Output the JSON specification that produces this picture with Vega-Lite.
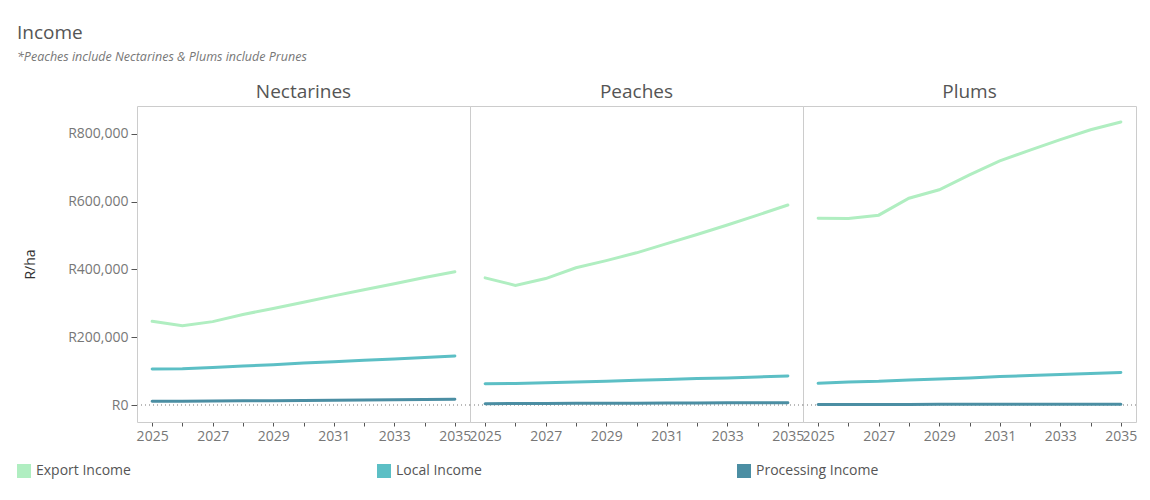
{
  "$schema": "https://vega.github.io/schema/vega-lite/v6.json",
  "padding": {"left": 17, "top": 23, "right": 10, "bottom": 5},
  "background": "white",
  "bounds": "flush",
  "title": {
    "text": "Income",
    "subtitle": "*Peaches include Nectarines & Plums include Prunes",
    "anchor": "start",
    "frame": "bounds",
    "dx": 0,
    "font": "Open Sans",
    "fontSize": 19,
    "fontWeight": "normal",
    "color": "#555555",
    "subtitleFont": "Open Sans",
    "subtitleFontSize": 12.5,
    "subtitleFontStyle": "italic",
    "subtitleColor": "#777777",
    "subtitlePadding": 8,
    "offset": 20
  },
  "data": {
    "values": [
      {"fruit": "Nectarines", "type": "Export Income", "year": 2025, "value": 247000},
      {"fruit": "Nectarines", "type": "Export Income", "year": 2026, "value": 234000},
      {"fruit": "Nectarines", "type": "Export Income", "year": 2027, "value": 246000},
      {"fruit": "Nectarines", "type": "Export Income", "year": 2028, "value": 267000},
      {"fruit": "Nectarines", "type": "Export Income", "year": 2029, "value": 285000},
      {"fruit": "Nectarines", "type": "Export Income", "year": 2030, "value": 303000},
      {"fruit": "Nectarines", "type": "Export Income", "year": 2031, "value": 322000},
      {"fruit": "Nectarines", "type": "Export Income", "year": 2032, "value": 340000},
      {"fruit": "Nectarines", "type": "Export Income", "year": 2033, "value": 358000},
      {"fruit": "Nectarines", "type": "Export Income", "year": 2034, "value": 376000},
      {"fruit": "Nectarines", "type": "Export Income", "year": 2035, "value": 393000},
      {"fruit": "Nectarines", "type": "Local Income", "year": 2025, "value": 106000},
      {"fruit": "Nectarines", "type": "Local Income", "year": 2026, "value": 107000},
      {"fruit": "Nectarines", "type": "Local Income", "year": 2027, "value": 111000},
      {"fruit": "Nectarines", "type": "Local Income", "year": 2028, "value": 115000},
      {"fruit": "Nectarines", "type": "Local Income", "year": 2029, "value": 119000},
      {"fruit": "Nectarines", "type": "Local Income", "year": 2030, "value": 124000},
      {"fruit": "Nectarines", "type": "Local Income", "year": 2031, "value": 128000},
      {"fruit": "Nectarines", "type": "Local Income", "year": 2032, "value": 132000},
      {"fruit": "Nectarines", "type": "Local Income", "year": 2033, "value": 136000},
      {"fruit": "Nectarines", "type": "Local Income", "year": 2034, "value": 140000},
      {"fruit": "Nectarines", "type": "Local Income", "year": 2035, "value": 145000},
      {"fruit": "Nectarines", "type": "Processing Income", "year": 2025, "value": 11000},
      {"fruit": "Nectarines", "type": "Processing Income", "year": 2026, "value": 11500},
      {"fruit": "Nectarines", "type": "Processing Income", "year": 2027, "value": 12000},
      {"fruit": "Nectarines", "type": "Processing Income", "year": 2028, "value": 12500},
      {"fruit": "Nectarines", "type": "Processing Income", "year": 2029, "value": 13000},
      {"fruit": "Nectarines", "type": "Processing Income", "year": 2030, "value": 13500},
      {"fruit": "Nectarines", "type": "Processing Income", "year": 2031, "value": 14000},
      {"fruit": "Nectarines", "type": "Processing Income", "year": 2032, "value": 15000},
      {"fruit": "Nectarines", "type": "Processing Income", "year": 2033, "value": 15500},
      {"fruit": "Nectarines", "type": "Processing Income", "year": 2034, "value": 16000},
      {"fruit": "Nectarines", "type": "Processing Income", "year": 2035, "value": 17000},
      {"fruit": "Peaches", "type": "Export Income", "year": 2025, "value": 375000},
      {"fruit": "Peaches", "type": "Export Income", "year": 2026, "value": 353000},
      {"fruit": "Peaches", "type": "Export Income", "year": 2027, "value": 373000},
      {"fruit": "Peaches", "type": "Export Income", "year": 2028, "value": 405000},
      {"fruit": "Peaches", "type": "Export Income", "year": 2029, "value": 426000},
      {"fruit": "Peaches", "type": "Export Income", "year": 2030, "value": 449000},
      {"fruit": "Peaches", "type": "Export Income", "year": 2031, "value": 476000},
      {"fruit": "Peaches", "type": "Export Income", "year": 2032, "value": 503000},
      {"fruit": "Peaches", "type": "Export Income", "year": 2033, "value": 531000},
      {"fruit": "Peaches", "type": "Export Income", "year": 2034, "value": 560000},
      {"fruit": "Peaches", "type": "Export Income", "year": 2035, "value": 590000},
      {"fruit": "Peaches", "type": "Local Income", "year": 2025, "value": 63000},
      {"fruit": "Peaches", "type": "Local Income", "year": 2026, "value": 63500},
      {"fruit": "Peaches", "type": "Local Income", "year": 2027, "value": 66000},
      {"fruit": "Peaches", "type": "Local Income", "year": 2028, "value": 68000},
      {"fruit": "Peaches", "type": "Local Income", "year": 2029, "value": 70000},
      {"fruit": "Peaches", "type": "Local Income", "year": 2030, "value": 73000},
      {"fruit": "Peaches", "type": "Local Income", "year": 2031, "value": 75000},
      {"fruit": "Peaches", "type": "Local Income", "year": 2032, "value": 78000},
      {"fruit": "Peaches", "type": "Local Income", "year": 2033, "value": 80000},
      {"fruit": "Peaches", "type": "Local Income", "year": 2034, "value": 83000},
      {"fruit": "Peaches", "type": "Local Income", "year": 2035, "value": 86000},
      {"fruit": "Peaches", "type": "Processing Income", "year": 2025, "value": 4000},
      {"fruit": "Peaches", "type": "Processing Income", "year": 2026, "value": 4300},
      {"fruit": "Peaches", "type": "Processing Income", "year": 2027, "value": 4600},
      {"fruit": "Peaches", "type": "Processing Income", "year": 2028, "value": 5000},
      {"fruit": "Peaches", "type": "Processing Income", "year": 2029, "value": 5300},
      {"fruit": "Peaches", "type": "Processing Income", "year": 2030, "value": 5600},
      {"fruit": "Peaches", "type": "Processing Income", "year": 2031, "value": 5900},
      {"fruit": "Peaches", "type": "Processing Income", "year": 2032, "value": 6200},
      {"fruit": "Peaches", "type": "Processing Income", "year": 2033, "value": 6500},
      {"fruit": "Peaches", "type": "Processing Income", "year": 2034, "value": 6800},
      {"fruit": "Peaches", "type": "Processing Income", "year": 2035, "value": 7000},
      {"fruit": "Plums", "type": "Export Income", "year": 2025, "value": 551000},
      {"fruit": "Plums", "type": "Export Income", "year": 2026, "value": 550000},
      {"fruit": "Plums", "type": "Export Income", "year": 2027, "value": 560000},
      {"fruit": "Plums", "type": "Export Income", "year": 2028, "value": 610000},
      {"fruit": "Plums", "type": "Export Income", "year": 2029, "value": 635000},
      {"fruit": "Plums", "type": "Export Income", "year": 2030, "value": 679000},
      {"fruit": "Plums", "type": "Export Income", "year": 2031, "value": 720000},
      {"fruit": "Plums", "type": "Export Income", "year": 2032, "value": 752000},
      {"fruit": "Plums", "type": "Export Income", "year": 2033, "value": 783000},
      {"fruit": "Plums", "type": "Export Income", "year": 2034, "value": 812000},
      {"fruit": "Plums", "type": "Export Income", "year": 2035, "value": 835000},
      {"fruit": "Plums", "type": "Local Income", "year": 2025, "value": 64000},
      {"fruit": "Plums", "type": "Local Income", "year": 2026, "value": 68000},
      {"fruit": "Plums", "type": "Local Income", "year": 2027, "value": 70000},
      {"fruit": "Plums", "type": "Local Income", "year": 2028, "value": 74000},
      {"fruit": "Plums", "type": "Local Income", "year": 2029, "value": 77000},
      {"fruit": "Plums", "type": "Local Income", "year": 2030, "value": 80000},
      {"fruit": "Plums", "type": "Local Income", "year": 2031, "value": 84000},
      {"fruit": "Plums", "type": "Local Income", "year": 2032, "value": 87000},
      {"fruit": "Plums", "type": "Local Income", "year": 2033, "value": 90000},
      {"fruit": "Plums", "type": "Local Income", "year": 2034, "value": 93000},
      {"fruit": "Plums", "type": "Local Income", "year": 2035, "value": 96000},
      {"fruit": "Plums", "type": "Processing Income", "year": 2025, "value": 1800},
      {"fruit": "Plums", "type": "Processing Income", "year": 2026, "value": 1850},
      {"fruit": "Plums", "type": "Processing Income", "year": 2027, "value": 1900},
      {"fruit": "Plums", "type": "Processing Income", "year": 2028, "value": 1950},
      {"fruit": "Plums", "type": "Processing Income", "year": 2029, "value": 2000},
      {"fruit": "Plums", "type": "Processing Income", "year": 2030, "value": 2050},
      {"fruit": "Plums", "type": "Processing Income", "year": 2031, "value": 2100},
      {"fruit": "Plums", "type": "Processing Income", "year": 2032, "value": 2150},
      {"fruit": "Plums", "type": "Processing Income", "year": 2033, "value": 2200},
      {"fruit": "Plums", "type": "Processing Income", "year": 2034, "value": 2250},
      {"fruit": "Plums", "type": "Processing Income", "year": 2035, "value": 2300}
    ]
  },
  "facet": {
    "column": {
      "field": "fruit",
      "type": "nominal",
      "sort": ["Nectarines", "Peaches", "Plums"],
      "header": {
        "title": null,
        "labelFont": "Open Sans",
        "labelFontSize": 19,
        "labelColor": "#555555",
        "labelPadding": 4
      }
    }
  },
  "spacing": 0,
  "spec": {
    "width": 333,
    "height": 316,
    "layer": [
      {
        "mark": {"type": "rule", "color": "#bbbbbb", "strokeDash": [1, 3], "strokeWidth": 1},
        "encoding": {"y": {"datum": 0}}
      },
      {
        "mark": {"type": "line", "strokeWidth": 3, "strokeCap": "round"},
        "encoding": {
          "x": {
            "field": "year",
            "type": "quantitative",
            "scale": {"domain": [2024.5, 2035.5], "nice": false, "zero": false},
            "axis": {
              "title": null,
              "values": [2025, 2026, 2027, 2028, 2029, 2030, 2031, 2032, 2033, 2034, 2035],
              "format": "d",
              "labelExpr": "datum.value % 2 == 1 ? datum.label : ''",
              "labelFont": "Open Sans",
              "labelFontSize": 14,
              "labelColor": "#777777",
              "labelOverlap": false,
              "labelBound": false,
              "labelFlush": false,
              "labelPadding": 3,
              "tickColor": "#555555",
              "tickSize": 4,
              "domain": false,
              "grid": false
            }
          },
          "y": {
            "field": "value",
            "type": "quantitative",
            "scale": {"domain": [-50000, 882000], "nice": false, "zero": false},
            "axis": {
              "title": "R/ha",
              "titleFont": "Open Sans",
              "titleFontSize": 14,
              "titleFontWeight": "normal",
              "titleColor": "#333333",
              "titlePadding": 30,
              "values": [0, 200000, 400000, 600000, 800000],
              "labelExpr": "'R' + format(datum.value, ',')",
              "labelFont": "Open Sans",
              "labelFontSize": 14,
              "labelColor": "#777777",
              "labelPadding": 3,
              "tickColor": "#555555",
              "tickSize": 6,
              "domain": false,
              "grid": false
            }
          },
          "color": {
            "field": "type",
            "type": "nominal",
            "scale": {
              "domain": ["Export Income", "Local Income", "Processing Income"],
              "range": ["#b0eec1", "#5cbfc5", "#4b8ea3"]
            },
            "legend": {
              "title": null,
              "orient": "none",
              "legendX": -120,
              "legendY": 358,
              "direction": "horizontal",
              "columns": 3,
              "gridAlign": "all",
              "columnPadding": 218,
              "symbolType": "square",
              "symbolSize": 196,
              "labelFont": "Open Sans",
              "labelFontSize": 14,
              "labelColor": "#555555",
              "labelOffset": 5,
              "encode": {
                "symbols": {
                  "update": {
                    "fill": {"scale": "color", "field": "value"},
                    "fillOpacity": {"value": 1},
                    "strokeWidth": {"value": 0}
                  }
                }
              }
            }
          }
        }
      }
    ]
  },
  "config": {
    "view": {"stroke": "#cccccc", "strokeWidth": 1}
  }
}
